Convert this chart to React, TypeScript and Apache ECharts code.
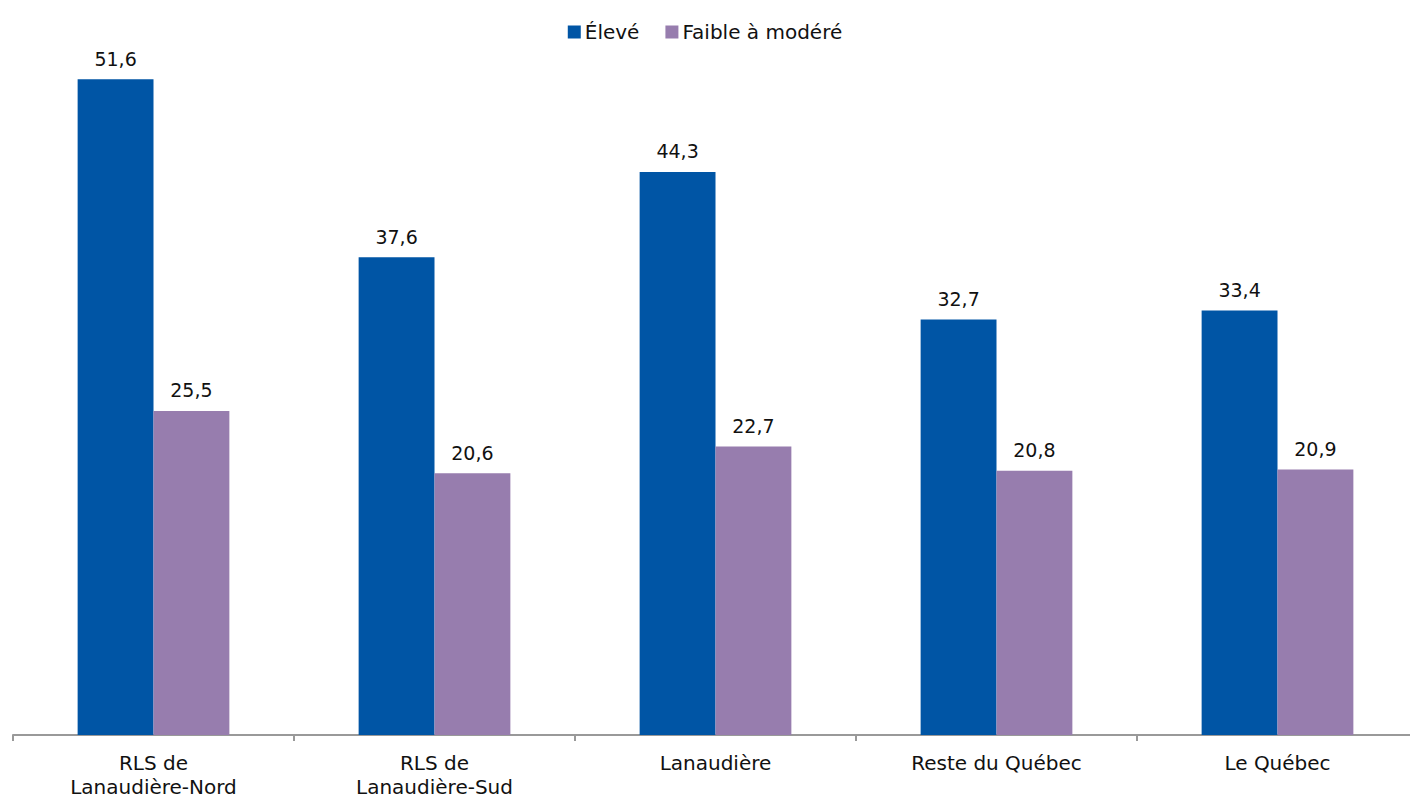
import React, { useEffect, useRef } from "react";
import * as echarts from "echarts";

const categories = [
  "RLS de\nLanaudière-Nord",
  "RLS de\nLanaudière-Sud",
  "Lanaudière",
  "Reste du Québec",
  "Le Québec",
];
const eleve = [51.6, 37.6, 44.3, 32.7, 33.4];
const faible = [25.5, 20.6, 22.7, 20.8, 20.9];
const seriesNames = ["Élevé", "Faible à modéré"];

const FONT = "DejaVu Sans";
const fmt = (p: any) => Number(p.value).toFixed(1).replace(".", ",");

export default function App() {
  const ref = useRef<HTMLDivElement>(null);
  useEffect(() => {
    if (!ref.current) return;
    const chart = echarts.init(ref.current, undefined, { renderer: "svg" });
    chart.setOption({
      animation: false,
      textStyle: { fontFamily: FONT },
      legend: {
        top: 17,
        left: "center",
        itemWidth: 13,
        itemHeight: 13,
        itemGap: 26,
        icon: "rect",
        textStyle: { fontFamily: FONT, fontSize: 20, color: "#111", padding: [0, 0, 0, -1] },
        data: seriesNames,
      },
      grid: {
        left: 13,
        width: 1405,
        top: 36,
        bottom: 65,
        containLabel: false,
        outerBoundsMode: "none",
      },
      xAxis: {
        type: "category",
        data: categories,
        axisLine: { lineStyle: { color: "#999", width: 2 } },
        axisTick: { show: true, length: 6, lineStyle: { color: "#999", width: 2 } },
        axisLabel: {
          fontFamily: FONT,
          fontSize: 20,
          color: "#111",
          margin: 16,
          lineHeight: 24,
          interval: 0,
        },
      },
      yAxis: {
        type: "value",
        min: 0,
        max: 55,
        show: false,
        splitLine: { show: false },
      },
      series: [
        {
          name: seriesNames[0],
          type: "bar",
          data: eleve,
          barGap: "0%",
          barCategoryGap: "46%",
          itemStyle: { color: "#0055A5" },
          label: {
            show: true,
            position: "top",
            distance: 11,
            formatter: fmt,
            fontFamily: FONT,
            fontSize: 19,
            color: "#111",
          },
        },
        {
          name: seriesNames[1],
          type: "bar",
          data: faible,
          itemStyle: { color: "#977DAE" },
          label: {
            show: true,
            position: "top",
            distance: 11,
            formatter: fmt,
            fontFamily: FONT,
            fontSize: 19,
            color: "#111",
          },
        },
      ],
    });
    return () => chart.dispose();
  }, []);
  return (
    <div
      ref={ref}
      style={{ position: "absolute", left: 0, top: 0, width: 1410, height: 800, overflow: "hidden" }}
    />
  );
}
